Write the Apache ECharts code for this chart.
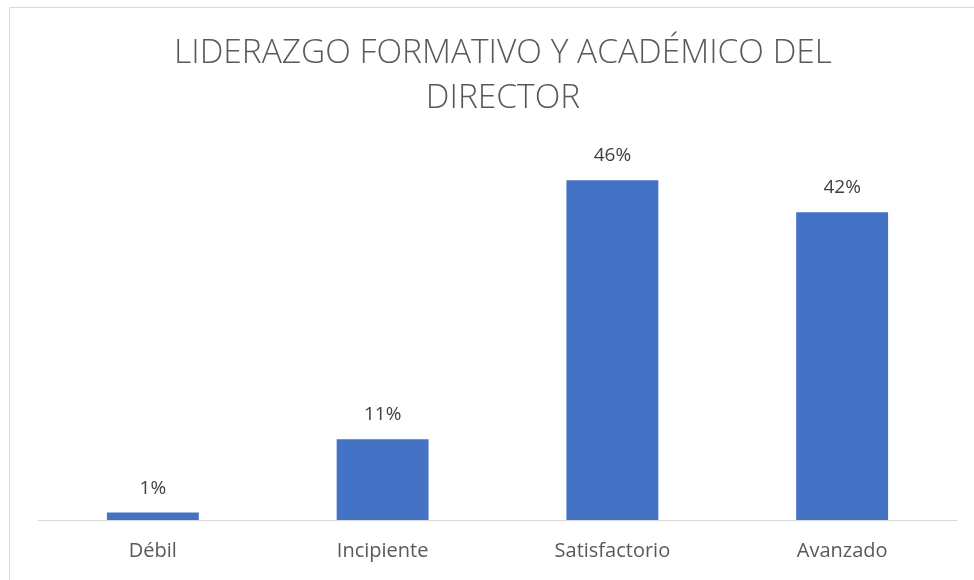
<!DOCTYPE html>
<html>
<head>
<meta charset="utf-8">
<script src="https://cdn.jsdelivr.net/npm/echarts@6/dist/echarts.min.js"></script>
<style>
    html, body { margin: 0; padding: 0; background: #fff; }
    #box { width: 974px; height: 580px; }
</style>
</head>
<body>
<div id="box"></div>
<script>
// datos
var categorias = ['Débil', 'Incipiente', 'Satisfactorio', 'Avanzado'];
var porcentajes = [1.0, 10.9, 45.9, 41.6];

var myChart = echarts.init(document.getElementById('box'));
var option = {
    backgroundColor: '#fff',
    title: {
        text: 'LIDERAZGO FORMATIVO Y ACADÉMICO DEL\nDIRECTOR',
        left: 498,
        textAlign: 'center',
        top: 26,
        textStyle: {
            fontFamily: 'Open Sans',
            fontWeight: 300,
            fontSize: 33.5,
            lineHeight: 45,
            color: '#595959'
        }
    },
    graphic: [{
        type: 'rect',
        shape: { x: 9.5, y: 7.5, width: 1000, height: 600 },
        style: { fill: 'none', stroke: '#d9d9d9', lineWidth: 1 },
        silent: true
    }],
    grid: { left: 38, right: 17, top: 150, bottom: 60 },
    xAxis: {
        type: 'category',
        data: categorias,
        axisLine: { lineStyle: { color: '#d9d9d9', width: 1 } },
        axisTick: { show: false },
        axisLabel: {
            fontFamily: 'Open Sans',
            fontSize: 20,
            color: '#595959',
            margin: 21
        }
    },
    yAxis: {
        type: 'value',
        min: 0,
        max: 50,
        show: false,
        splitLine: { show: false }
    },
    series: [{
        type: 'bar',
        data: porcentajes,
        barWidth: '40%',
        itemStyle: { color: '#4472c4' },
        label: {
            show: true,
            position: 'top',
            distance: 15,
            fontFamily: 'Open Sans',
            fontSize: 19,
            color: '#404040',
            formatter: function (p) { return Math.round(p.value) + '%'; }
        }
    }]
};
myChart.setOption(option);
</script>
</body>
</html>
